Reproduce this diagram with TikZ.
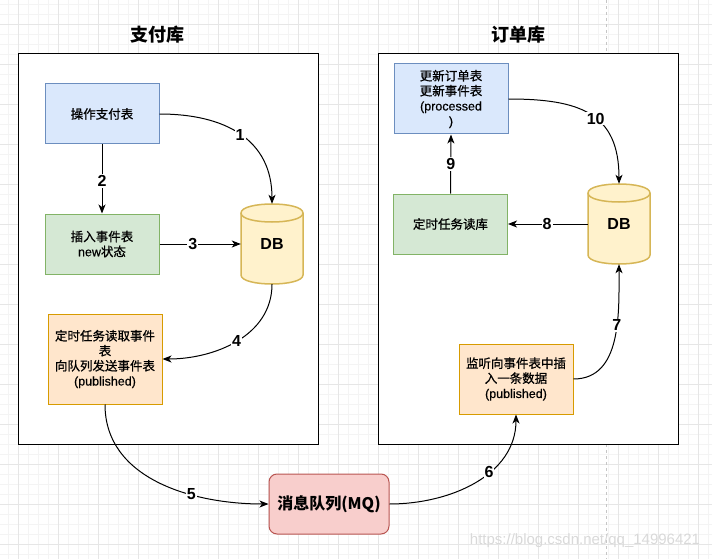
\documentclass[tikz,border=0pt]{standalone}
\usepackage{fontspec}
\setmainfont{Liberation Sans}
\newfontfamily\cjk{Noto Sans CJK SC}
\newfontfamily\cjkm{Noto Sans CJK SC}[FakeBold=0.8]
\newfontfamily\latm{Liberation Sans}[FakeBold=0.5]
\usetikzlibrary{arrows.meta}
\definecolor{bluefill}{HTML}{DAE8FC}\definecolor{bluestroke}{HTML}{6C8EBF}
\definecolor{greenfill}{HTML}{D5E8D4}\definecolor{greenstroke}{HTML}{82B366}
\definecolor{orangefill}{HTML}{FFE6CC}\definecolor{orangestroke}{HTML}{D79B00}
\definecolor{yellowfill}{HTML}{FFF2CC}\definecolor{yellowstroke}{HTML}{D6B656}
\definecolor{redfill}{HTML}{F8CECC}\definecolor{redstroke}{HTML}{B85450}
\definecolor{gridminor}{HTML}{F4F4F4}\definecolor{gridmajor}{HTML}{E6E6E6}
\newcommand\lt[1]{{\latm #1}}
\begin{document}
\begin{tikzpicture}[x=1pt,y=-1pt,
  nodebox/.style={draw, line width=1pt, minimum width=114pt, inner sep=1pt, align=center,
     font=\cjkm\fontsize{12.5}{15}\selectfont},
  bluebox/.style={nodebox, fill=bluefill, draw=bluestroke},
  greenbox/.style={nodebox, fill=greenfill, draw=greenstroke},
  orangebox/.style={nodebox, fill=orangefill, draw=orangestroke},
  mqbox/.style={draw=redstroke, fill=redfill, line width=1pt, rounded corners=8pt,
     minimum width=120pt, minimum height=60pt, font=\cjk\bfseries\fontsize{16}{18}\selectfont},
  container/.style={draw=black, fill=white, line width=1pt},
  cyl/.style={draw=yellowstroke, fill=yellowfill, line width=1.5pt},
  dbtext/.style={minimum width=62pt, minimum height=80pt, inner sep=0pt, font=\bfseries\fontsize{16}{18}\selectfont},
  title/.style={font=\cjk\bfseries\fontsize{18}{20}\selectfont},
  conn/.style={line width=1pt, -{Stealth[length=9pt,width=7pt,inset=2.5pt]}},
  lbl/.style={fill=white, inner sep=1pt, font=\bfseries\fontsize{16}{18}\selectfont}
]
\useasboundingbox (0,0) rectangle (712,559);
% background grid
\foreach \x in {8,18,...,708} \draw[gridminor, line width=0.8pt] (\x,0) -- (\x,559);
\foreach \y in {4,14,...,554} \draw[gridminor, line width=0.8pt] (0,\y) -- (712,\y);
\foreach \x in {18,58,...,698} \draw[gridmajor, line width=0.8pt] (\x,0) -- (\x,559);
\foreach \y in {24,64,...,544} \draw[gridmajor, line width=0.8pt] (0,\y) -- (712,\y);
\draw[gray!45, line width=0.8pt, dash pattern=on 3pt off 3pt] (606,0) -- (606,559);

% containers
\draw[container] (18,54) rectangle (318,444);
\draw[container] (378,54) rectangle (678,444);
\node[title] (t1) at (157,35) {支付库};
\node[title] (t2) at (518,35) {订单库};

% left side
\node[bluebox, minimum height=60pt] (n1) at (102,114) {操作支付表};
\node[greenbox, minimum height=60pt] (n2) at (102,244) {插入事件表\\\lt{new}状态};
\node[orangebox, minimum height=90pt] (n3) at (105,359) {定时任务读取事件\\表\\向队列发送事件表\\\lt{(published)}};
\draw[cyl] (241,213) -- (241,275) .. controls (241,287) and (303,287) .. (303,275) -- (303,213)
   .. controls (303,201) and (241,201) .. (241,213) -- cycle;
\draw[cyl] (241,213) .. controls (241,225) and (303,225) .. (303,213);
\node[dbtext] (db1) at (272,244) {DB};

% right side
\node[bluebox, minimum height=70pt] (r1) at (451,99) {更新订单表\\更新事件表\\\lt{(processed}\\\lt{)}};
\node[greenbox, minimum height=60pt] (r2) at (450.5,224) {定时任务读库};
\node[orangebox, minimum height=70pt] (r3) at (516,379) {监听向事件表中插\\入一条数据\\\lt{(published)}};
\draw[cyl] (588,193) -- (588,255) .. controls (588,267) and (650,267) .. (650,255) -- (650,193)
   .. controls (650,181) and (588,181) .. (588,193) -- cycle;
\draw[cyl] (588,193) .. controls (588,205) and (650,205) .. (650,193);
\node[dbtext] (db2) at (619,224) {DB};

% message queue
\node[mqbox] (mq) at (329,504) {消息队列(MQ)};

% connectors
\draw[conn] (n1.east) to[out=0,in=90,looseness=1.15] node[lbl,pos=0.5] {1} (db1.north);
\draw[conn] (n1.south) -- node[lbl,pos=0.53] {2} (n2.north);
\draw[conn] (n2.east) -- node[lbl,pos=0.41] {3} (db1.west);
\draw[conn] (db1.south) to[out=-90,in=0] node[lbl,pos=0.5] {4} (n3.east);
\draw[conn] (n3.south) to[out=-90,in=180] node[lbl,pos=0.66] {5} (mq.west);
\draw[conn] (mq.east) to[out=0,in=-90] node[lbl,pos=0.6] {6} (r3.south);
\draw[conn] (r3.east) to[out=0,in=-90] node[lbl,pos=0.6] {7} (db2.south);
\draw[conn] (db2.west) -- node[lbl,pos=0.51] {8} (r2.east);
\draw[conn] (r2.north) -- node[lbl,pos=0.5] {9} (r1.south);
\draw[conn] (r1.east) to[out=0,in=90,looseness=1.3] node[lbl,pos=0.55] {10} (db2.north);

% watermark
\node[text=gray!30, font=\fontsize{15}{15}\selectfont, inner sep=0pt] (wm) at (585,541) {https://blog.csdn.net/qq\_14996421};
\end{tikzpicture}
\end{document}
